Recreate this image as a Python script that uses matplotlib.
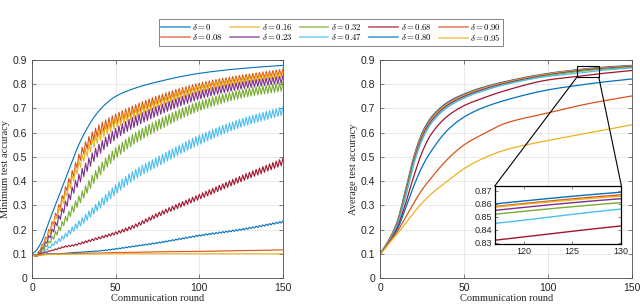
"""Minimum / average test accuracy versus communication round for several delta values."""

import matplotlib

matplotlib.use("Agg")
import matplotlib.pyplot as plt
import numpy as np
from matplotlib.patches import ConnectionPatch, Rectangle

plt.rcParams["mathtext.fontset"] = "cm"

# MATLAB default colour order, cycled over the ten deltas
COLORS = ["#0072BD", "#D95319", "#EDB120", "#7E2F8E", "#77AC30",
          "#4DBEEE", "#A2142F", "#0072BD", "#D95319", "#EDB120"]

deltas = ["0", "0.08", "0.16", "0.23", "0.32", "0.47", "0.68", "0.80", "0.90", "0.95"]

# ---- left panel: minimum test accuracy (midline + zigzag peak-to-peak)
min_rounds = [0, 2, 5, 10, 15, 20, 25, 30, 40, 50, 60, 75, 100, 125, 150]
min_mid = [
    [0.100, 0.110, 0.140, 0.230, 0.320, 0.410, 0.500, 0.580, 0.690, 0.750, 0.780, 0.810, 0.845, 0.865, 0.878],
    [0.100, 0.090, 0.120, 0.190, 0.270, 0.360, 0.440, 0.520, 0.610, 0.655, 0.690, 0.735, 0.790, 0.825, 0.850],
    [0.100, 0.090, 0.115, 0.180, 0.260, 0.340, 0.420, 0.490, 0.585, 0.640, 0.675, 0.720, 0.780, 0.815, 0.840],
    [0.100, 0.090, 0.110, 0.165, 0.230, 0.300, 0.370, 0.430, 0.530, 0.595, 0.640, 0.690, 0.755, 0.795, 0.820],
    [0.100, 0.090, 0.105, 0.145, 0.190, 0.240, 0.290, 0.340, 0.440, 0.515, 0.570, 0.630, 0.710, 0.760, 0.790],
    [0.100, 0.090, 0.100, 0.125, 0.150, 0.175, 0.205, 0.235, 0.300, 0.365, 0.420, 0.480, 0.570, 0.640, 0.690],
    [0.100, 0.090, 0.100, 0.110, 0.120, 0.130, 0.135, 0.145, 0.165, 0.185, 0.210, 0.260, 0.335, 0.410, 0.480],
    [0.100, 0.090, 0.095, 0.100, 0.100, 0.102, 0.105, 0.107, 0.112, 0.120, 0.130, 0.145, 0.175, 0.200, 0.232],
    [0.100, 0.090, 0.095, 0.098, 0.100, 0.100, 0.101, 0.102, 0.103, 0.105, 0.106, 0.108, 0.110, 0.113, 0.116],
    [0.100, 0.090, 0.095, 0.097, 0.098, 0.098, 0.099, 0.099, 0.099, 0.100, 0.100, 0.100, 0.100, 0.100, 0.100],
]
min_swing = [
    [0] * 15,
    [0, 0, 0.010, 0.020, 0.030, 0.035, 0.040, 0.040, 0.045, 0.045, 0.040, 0.035, 0.030, 0.025, 0.025],
    [0, 0, 0.010, 0.020, 0.030, 0.035, 0.040, 0.040, 0.045, 0.045, 0.040, 0.035, 0.030, 0.025, 0.025],
    [0, 0, 0.010, 0.020, 0.030, 0.035, 0.040, 0.045, 0.045, 0.045, 0.045, 0.040, 0.035, 0.030, 0.030],
    [0, 0, 0.008, 0.015, 0.025, 0.030, 0.035, 0.040, 0.045, 0.045, 0.045, 0.045, 0.040, 0.035, 0.035],
    [0, 0, 0.005, 0.010, 0.015, 0.020, 0.025, 0.030, 0.035, 0.040, 0.040, 0.040, 0.040, 0.035, 0.035],
    [0, 0, 0.002, 0.004, 0.005, 0.006, 0.007, 0.008, 0.010, 0.012, 0.015, 0.018, 0.022, 0.025, 0.028],
    [0, 0, 0, 0.001, 0.001, 0.002, 0.002, 0.002, 0.003, 0.004, 0.004, 0.005, 0.006, 0.006, 0.007],
    [0, 0, 0, 0, 0, 0.001, 0.001, 0.001, 0.001, 0.001, 0.002, 0.002, 0.002, 0.002, 0.002],
    [0] * 15,
]

# ---- right panel: average test accuracy
avg_rounds = [0, 2, 5, 10, 15, 20, 25, 30, 40, 50, 60, 75, 100, 117, 130, 150]
avg_acc = [
    [0.100, 0.120, 0.155, 0.230, 0.360, 0.500, 0.600, 0.660, 0.725, 0.760, 0.785, 0.812, 0.845, 0.860, 0.869, 0.878],
    [0.100, 0.120, 0.154, 0.228, 0.355, 0.495, 0.595, 0.655, 0.721, 0.757, 0.782, 0.810, 0.843, 0.858, 0.867, 0.876],
    [0.100, 0.120, 0.153, 0.226, 0.352, 0.490, 0.590, 0.651, 0.718, 0.754, 0.780, 0.808, 0.842, 0.8575, 0.866, 0.875],
    [0.100, 0.119, 0.152, 0.223, 0.347, 0.484, 0.584, 0.645, 0.713, 0.750, 0.776, 0.805, 0.839, 0.855, 0.864, 0.873],
    [0.100, 0.119, 0.151, 0.220, 0.340, 0.475, 0.575, 0.637, 0.706, 0.744, 0.771, 0.801, 0.836, 0.852, 0.861, 0.871],
    [0.100, 0.118, 0.149, 0.215, 0.330, 0.470, 0.570, 0.635, 0.705, 0.743, 0.770, 0.800, 0.833, 0.845, 0.856, 0.868],
    [0.100, 0.117, 0.145, 0.205, 0.305, 0.420, 0.520, 0.590, 0.668, 0.712, 0.740, 0.775, 0.818, 0.832, 0.843, 0.857],
    [0.100, 0.116, 0.142, 0.198, 0.285, 0.380, 0.460, 0.520, 0.610, 0.665, 0.700, 0.735, 0.777, 0.795, 0.807, 0.822],
    [0.100, 0.115, 0.145, 0.190, 0.250, 0.310, 0.365, 0.410, 0.490, 0.550, 0.590, 0.640, 0.682, 0.710, 0.728, 0.752],
    [0.100, 0.114, 0.140, 0.180, 0.225, 0.270, 0.310, 0.345, 0.400, 0.452, 0.490, 0.530, 0.568, 0.590, 0.607, 0.633],
]

GRAY = "#262626"
AX_COLOR = "#4d4d4d"


def pchip(x, y, xn):
    """Shape-preserving cubic through the read points (smooth drawing only)."""
    x = np.asarray(x, float)
    y = np.asarray(y, float)
    h = np.diff(x)
    dl = np.diff(y) / h
    d = np.zeros_like(y)
    for k in range(1, len(x) - 1):
        if dl[k - 1] * dl[k] > 0:
            w1 = 2 * h[k] + h[k - 1]
            w2 = h[k] + 2 * h[k - 1]
            d[k] = (w1 + w2) / (w1 / dl[k - 1] + w2 / dl[k])
    d[0] = dl[0]
    d[-1] = dl[-1]
    idx = np.clip(np.searchsorted(x, xn, side="right") - 1, 0, len(x) - 2)
    t = (xn - x[idx]) / h[idx]
    h00 = 2 * t**3 - 3 * t**2 + 1
    h10 = t**3 - 2 * t**2 + t
    h01 = -2 * t**3 + 3 * t**2
    h11 = t**3 - t**2
    return h00 * y[idx] + h10 * h[idx] * d[idx] + h01 * y[idx + 1] + h11 * h[idx] * d[idx + 1]


def style_axes(ax, fontsize=7.5):
    for s in ax.spines.values():
        s.set_color(AX_COLOR)
        s.set_linewidth(0.6)
    ax.tick_params(direction="in", length=3, width=0.5, colors=AX_COLOR,
                   labelcolor=GRAY, labelsize=fontsize, top=True, right=True)
    for lab in ax.get_xticklabels() + ax.get_yticklabels():
        lab.set_family("Liberation Sans")


fig = plt.figure(figsize=(6.4, 3.04), dpi=100)
ax1 = fig.add_axes([0.050, 0.0855, 0.392, 0.717])
ax2 = fig.add_axes([0.594, 0.0855, 0.394, 0.717])

# left: per-round zigzag around the read midline
rounds = np.arange(0, 151)
sign = np.where(rounds % 2 == 0, 1.0, -1.0)
handles = []
for i, d in enumerate(deltas):
    mid = pchip(min_rounds, min_mid[i], rounds)
    swing = np.interp(rounds, min_rounds, min_swing[i])
    (h,) = ax1.plot(rounds, mid + sign * swing / 2, color=COLORS[i], lw=0.8,
                    label=rf"$\delta = {d}$")
    handles.append(h)

fine = np.linspace(0, 150, 601)
for i, d in enumerate(deltas):
    ax2.plot(fine, pchip(avg_rounds, avg_acc[i], fine), color=COLORS[i], lw=0.9)

for ax, ylabel in ((ax1, "Minimum test accuracy"), (ax2, "Average test accuracy")):
    ax.set_xlim(0, 150)
    ax.set_ylim(0, 0.9)
    ax.set_xticks([0, 50, 100, 150])
    ax.set_yticks(np.arange(0, 0.91, 0.1))
    ax.set_yticklabels(["0", "0.1", "0.2", "0.3", "0.4", "0.5", "0.6", "0.7", "0.8", "0.9"])
    ax.grid(True, color="#e6e6e6", lw=0.6)
    ax.set_axisbelow(True)
    ax.set_xlabel("Communication round", family="Liberation Serif", fontsize=7.5,
                  color=GRAY, labelpad=1)
    ax.set_ylabel(ylabel, family="Liberation Serif", fontsize=7.5, color=GRAY, labelpad=2)
    style_axes(ax)

# inset zoom on the right panel
x0, x1, y0, y1 = 117, 130.07, 0.829, 0.8738
axins = fig.add_axes([0.773, 0.197, 0.198, 0.191])
fine_in = np.linspace(x0, x1, 60)
for i, d in enumerate(deltas):
    axins.plot(fine_in, pchip(avg_rounds, avg_acc[i], fine_in), color=COLORS[i], lw=1.0)
axins.set_xlim(x0, x1)
axins.set_ylim(y0, y1)
axins.set_xticks([120, 125, 130])
axins.set_yticks([0.83, 0.84, 0.85, 0.86, 0.87])
axins.set_yticklabels(["0.83", "0.84", "0.85", "0.86", "0.87"])
style_axes(axins, fontsize=6.5)
for s in axins.spines.values():
    s.set_color("black")
    s.set_linewidth(0.9)
axins.tick_params(length=2, pad=2)

ax2.add_patch(Rectangle((x0, y0), x1 - x0, y1 - y0, fill=False, ec="black", lw=0.8, zorder=5))
for xa, xb in ((x0, 0), (x1, 1)):
    con = ConnectionPatch(xyA=(xa, y0), coordsA=ax2.transData, xyB=(xb, 1),
                          coordsB=axins.transAxes, color="black", lw=0.8)
    fig.add_artist(con)

leg = fig.legend(handles=handles, ncol=5, loc="center", bbox_to_anchor=(0.517, 0.893),
                 fontsize=6.3, frameon=True, fancybox=False, edgecolor=AX_COLOR,
                 handlelength=3.3, handletextpad=0.3, columnspacing=0.8,
                 labelspacing=0.1, borderpad=0.25)
leg.get_frame().set_linewidth(0.6)
for line in leg.get_lines():
    line.set_alpha(0.7)
    line.set_linewidth(1.2)

fig.savefig("out.png", dpi=100)
